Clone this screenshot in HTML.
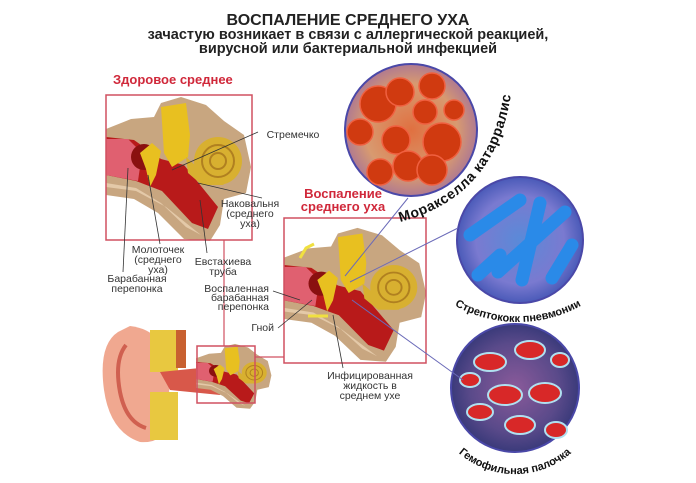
<!DOCTYPE html>
<html><head><meta charset="utf-8"><style>
html,body{margin:0;padding:0;background:#fff}
svg{display:block}
text{font-family:"Liberation Sans",sans-serif}
</style></head><body>
<svg width="696" height="483" viewBox="0 0 696 483" xmlns="http://www.w3.org/2000/svg">
<defs>
<radialGradient id="g1" cx="50%" cy="50%" r="50%"><stop offset="0" stop-color="#e07040"/><stop offset="0.7" stop-color="#d89a70"/><stop offset="1" stop-color="#b07a90"/></radialGradient>
<radialGradient id="g2" cx="50%" cy="50%" r="50%"><stop offset="0" stop-color="#5a8ad8"/><stop offset="0.7" stop-color="#7a7ad0"/><stop offset="1" stop-color="#4a5ab8"/></radialGradient>
<radialGradient id="g3" cx="50%" cy="50%" r="50%"><stop offset="0" stop-color="#8a5a9a"/><stop offset="0.7" stop-color="#5a4a8a"/><stop offset="1" stop-color="#3a3a7a"/></radialGradient>
<g id="anat">
<polygon fill="#c8a680" points="0,34 25,24 48,22 55,8 75,2 100,10 118,26 138,40 145,72 140,98 118,104 114,130 104,146 78,144 52,118 28,104 0,100"/>
<polygon fill="#e4c9a8" points="0,88 30,93 55,108 80,132 95,140 60,112 30,96 0,92"/>
<polygon fill="#b81a1a" points="0,42 28,45 55,64 78,70 112,112 102,134 86,128 56,96 30,86 0,80"/>
<polygon fill="#e06070" points="0,44 22,44 36,58 32,86 0,80"/>
<circle cx="38" cy="62" r="13" fill="#8a1010"/>
<polygon fill="#e8c020" points="34,58 46,48 55,56 50,80 44,92 40,74"/>
<polygon fill="#e8c020" points="55,12 80,8 84,40 82,62 66,72 58,58"/>
<circle cx="112" cy="66" r="24" fill="#d8b030"/>
<circle cx="112" cy="66" r="16" fill="none" stroke="#b08020" stroke-width="2"/>
<circle cx="112" cy="66" r="8" fill="none" stroke="#b08020" stroke-width="2"/>
<polygon fill="#d8b030" points="80,62 100,80 118,90 96,90 82,78"/>
</g>
</defs>

<text x="348" y="25" font-size="16" font-weight="bold" text-anchor="middle" fill="#222">ВОСПАЛЕНИЕ СРЕДНЕГО УХА</text>
<text x="348" y="39" font-size="14.5" font-weight="bold" text-anchor="middle" fill="#222">зачастую возникает в связи с аллергической реакцией,</text>
<text x="348" y="53" font-size="14.5" font-weight="bold" text-anchor="middle" fill="#222">вирусной или бактериальной инфекцией</text>

<text x="113" y="84" font-size="13" font-weight="bold" fill="#d0283a">Здоровое среднее</text>
<text x="343" y="198" font-size="13" font-weight="bold" text-anchor="middle" fill="#d0283a">Воспаление</text>
<text x="343" y="211" font-size="13" font-weight="bold" text-anchor="middle" fill="#d0283a">среднего уха</text>

<use href="#anat" transform="translate(106,95)"/>
<rect x="106" y="95" width="146" height="145" fill="none" stroke="#d05060" stroke-width="1.5"/>
<use href="#anat" transform="translate(284,226) scale(0.98,0.93)"/>
<rect x="284" y="218" width="142" height="145" fill="none" stroke="#d05060" stroke-width="1.5"/>
<polyline points="300,258 306,248 314,244" fill="none" stroke="#f0e040" stroke-width="3"/>
<line x1="308" y1="316" x2="328" y2="316" stroke="#f0e040" stroke-width="3"/>

<path d="M118,332 Q98,345 104,390 Q110,432 140,442 Q165,444 168,420 L170,370 Q165,330 130,326 Z" fill="#f0a890"/>
<path d="M126,345 Q114,360 120,392 Q126,422 146,428" fill="none" stroke="#d06050" stroke-width="4"/>
<rect x="150" y="330" width="28" height="42" fill="#e8c840"/>
<rect x="150" y="392" width="28" height="48" fill="#e8c840"/>
<rect x="176" y="330" width="10" height="38" fill="#c86030"/>
<polygon points="160,372 200,368 230,380 220,395 170,390" fill="#d8584a"/>
<use href="#anat" transform="translate(196,343) scale(0.52,0.45)"/>
<rect x="197" y="346" width="58" height="57" fill="none" stroke="#d05060" stroke-width="1.5"/>

<line x1="224" y1="240" x2="224" y2="346" stroke="#d05060" stroke-width="1.2"/>
<line x1="255" y1="357" x2="284" y2="357" stroke="#d05060" stroke-width="1.2"/>

<circle cx="411" cy="130" r="66" fill="url(#g1)" stroke="#4a48a8" stroke-width="2"/>
<g fill="#d03a10" stroke="#f06040" stroke-width="1.5">
<circle cx="378" cy="104" r="18"/><circle cx="400" cy="92" r="14"/><circle cx="432" cy="86" r="13"/><circle cx="425" cy="112" r="12"/><circle cx="442" cy="142" r="19"/><circle cx="396" cy="140" r="14"/><circle cx="408" cy="166" r="15"/><circle cx="432" cy="170" r="15"/><circle cx="360" cy="132" r="13"/><circle cx="380" cy="172" r="13"/><circle cx="454" cy="110" r="10"/></g>
<circle cx="520" cy="240" r="63" fill="url(#g2)" stroke="#4a48a8" stroke-width="2"/>
<g stroke="#2a8ae8" stroke-width="13" stroke-linecap="round" fill="none">
<line x1="470" y1="235" x2="520" y2="200"/><line x1="540" y1="203" x2="522" y2="280"/><line x1="498" y1="272" x2="565" y2="212"/><line x1="552" y1="278" x2="572" y2="245"/><line x1="478" y1="275" x2="500" y2="255"/></g>
<circle cx="515" cy="388" r="64" fill="url(#g3)" stroke="#4a48a8" stroke-width="2"/>
<g fill="#d82828" stroke="#b0e0f0" stroke-width="2">
<ellipse cx="490" cy="362" rx="16" ry="9"/><ellipse cx="530" cy="350" rx="15" ry="9"/><ellipse cx="505" cy="395" rx="17" ry="10"/><ellipse cx="545" cy="393" rx="16" ry="10"/><ellipse cx="480" cy="412" rx="13" ry="8"/><ellipse cx="520" cy="425" rx="15" ry="9"/><ellipse cx="556" cy="430" rx="11" ry="8"/><ellipse cx="470" cy="380" rx="10" ry="7"/><ellipse cx="560" cy="360" rx="9" ry="7"/></g>

<g stroke="#6a6ab8" stroke-width="1">
<line x1="345" y1="276" x2="408" y2="198"/>
<line x1="350" y1="282" x2="458" y2="228"/>
<line x1="352" y1="300" x2="463" y2="380"/>
</g>

<path id="p1" d="M400,222 Q500,196 512,86" fill="none"/>
<text font-size="14" font-weight="bold" fill="#111" letter-spacing="0.6"><textPath href="#p1">Моракселла катарралис</textPath></text>
<path id="p2" d="M440,296 A130,130 0 0 0 596,296" fill="none"/>
<text font-size="11" font-weight="bold" fill="#111"><textPath href="#p2" startOffset="50%" text-anchor="middle">Стрептококк пневмонии</textPath></text>
<path id="p3" d="M434,417 A86,86 0 0 0 596,417" fill="none"/>
<text font-size="11" font-weight="bold" fill="#111"><textPath href="#p3" startOffset="50%" text-anchor="middle">Гемофильная палочка</textPath></text>

<g stroke="#333" stroke-width="0.8">
<line x1="172" y1="170" x2="258" y2="132"/>
<line x1="198" y1="183" x2="262" y2="198"/>
<line x1="148" y1="175" x2="160" y2="244"/>
<line x1="128" y1="168" x2="123" y2="272"/>
<line x1="200" y1="200" x2="207" y2="253"/>
<line x1="273" y1="291" x2="300" y2="300"/>
<line x1="278" y1="328" x2="312" y2="300"/>
<line x1="333" y1="315" x2="343" y2="368"/>
</g>

<g font-size="10.5" fill="#333" text-anchor="middle">
<text x="293" y="138">Стремечко</text>
<text x="250" y="207">Наковальня</text><text x="250" y="217">(среднего</text><text x="250" y="227">уха)</text>
<text x="158" y="253">Молоточек</text><text x="158" y="263">(среднего</text><text x="158" y="273">уха)</text>
<text x="223" y="265">Евстахиева</text><text x="223" y="275">труба</text>
<text x="137" y="282">Барабанная</text><text x="137" y="292">перепонка</text>
<text x="370" y="379">Инфицированная</text><text x="370" y="389">жидкость в</text><text x="370" y="399">среднем ухе</text>
</g>
<g font-size="10.5" fill="#333" text-anchor="end">
<text x="269" y="292">Воспаленная</text><text x="269" y="301">барабанная</text><text x="269" y="310">перепонка</text>
<text x="274" y="331">Гной</text>
</g>
</svg>
</body></html>
